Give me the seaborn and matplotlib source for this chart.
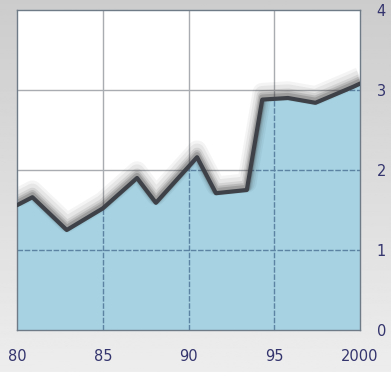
"""Area chart with a shaded line, values on a 0-4 scale, 1980-2000."""

import matplotlib
matplotlib.use("Agg")
import matplotlib.pyplot as plt
import matplotlib.transforms as mtransforms
import numpy as np
import pandas as pd
import seaborn as sns

years = [1980.0, 1980.9, 1982.9, 1985.0, 1987.0, 1988.1, 1990.5, 1991.6,
         1993.4, 1994.3, 1995.8, 1997.4, 1999.6, 2000.0]
values = [1.56, 1.66, 1.25, 1.52, 1.90, 1.59, 2.16, 1.71,
          1.75, 2.88, 2.90, 2.84, 3.04, 3.08]
x_ticks = [1980, 1985, 1990, 1995, 2000]
x_labels = ["80", "85", "90", "95", "2000"]
y_ticks = [0, 1, 2, 3, 4]

data = pd.DataFrame({"year": years, "value": values})

sns.set_style("white")
plt.rcParams["font.family"] = ["DejaVu Sans"]

fig = plt.figure(figsize=(3.91, 3.72), dpi=100)

# soft grey backdrop, lighter towards the bottom
bg = fig.add_axes([0, 0, 1, 1], zorder=-10)
grad = np.linspace(0.80, 0.93, 256).reshape(-1, 1)
bg.imshow(grad, aspect="auto", cmap="gray", vmin=0, vmax=1,
          extent=[0, 1, 0, 1], origin="upper")
bg.set_axis_off()

ax = fig.add_axes([17 / 391, 42 / 372, 343 / 391, 320 / 372])
ax.set_facecolor("white")

# light grid behind everything
for t in x_ticks[1:-1]:
    ax.axvline(t, color="#a9acb0", lw=1, zorder=0.5)
for t in y_ticks[1:-1]:
    ax.axhline(t, color="#a9acb0", lw=1, zorder=0.5)

area = ax.fill_between(data["year"], data["value"], 0, color="#a6d2e2",
                       zorder=1)

# darker grid, finely dashed, only visible inside the filled area
clip = area.get_paths()[0]
for t in x_ticks[1:-1]:
    ln = ax.axvline(t, color="#5d83a2", lw=1, ls=(0, (4, 1.2)), zorder=1.5)
    ln.set_clip_path(clip, transform=ax.transData)
for t in y_ticks[1:-1]:
    ln = ax.axhline(t, color="#5d83a2", lw=1, ls=(0, (4, 1.2)), zorder=1.5)
    ln.set_clip_path(clip, transform=ax.transData)

# blurred shadow above the line
for dy, lw, a in [(7, 14, 0.05), (6, 11, 0.07), (4, 8, 0.10),
                  (3, 6, 0.15), (2, 4.5, 0.20)]:
    off = mtransforms.offset_copy(ax.transData, fig=fig, x=0, y=dy,
                                  units="dots")
    ax.plot(data["year"], data["value"], color="#303030", lw=lw, alpha=a,
            transform=off, zorder=2, solid_capstyle="butt")

sns.lineplot(data=data, x="year", y="value", ax=ax, color="#3e4248",
             linewidth=3, zorder=4)

ax.set_xlim(1980, 2000)
ax.set_ylim(0, 4)
ax.set_xticks(x_ticks)
ax.set_xticklabels(x_labels)
ax.set_yticks(y_ticks)
ax.yaxis.tick_right()
ax.tick_params(axis="both", length=0, colors="#34346e", labelsize=10.5)
ax.tick_params(axis="x", pad=14)
ax.tick_params(axis="y", pad=12)
ax.set_xlabel("")
ax.set_ylabel("")
for side, sp in ax.spines.items():
    sp.set_visible(True)
    sp.set_color("#6f7c88")
    sp.set_linewidth(1)

fig.savefig("out.png", dpi=100)
